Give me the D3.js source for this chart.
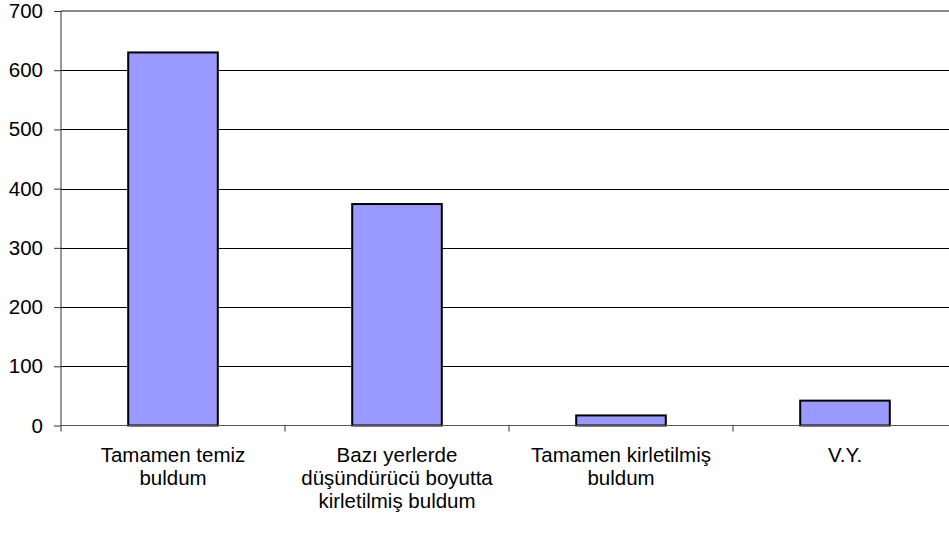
<!DOCTYPE html>
<html><head><meta charset="utf-8">
<script src="https://cdn.jsdelivr.net/npm/d3@7"></script>
<style>body{margin:0;background:#fff}svg{display:block}text{font-family:"Liberation Sans",Arial,sans-serif}</style>
</head><body>
<svg id="c" width="949" height="534"></svg>
<script>
const categories = [
  ["Tamamen temiz", "buldum"],
  ["Bazı yerlerde", "düşündürücü boyutta", "kirletilmiş buldum"],
  ["Tamamen kirletilmiş", "buldum"],
  ["V.Y."]
];
const values = [630, 374, 17, 42];
const yTicks = [0, 100, 200, 300, 400, 500, 600, 700];

(function () {
const svg = d3.select("#c");
const pl = 61, pr = 957, pt = 11, pb = 425.5;
const fs = 20.5;
const x = d3.scaleBand().domain(d3.range(categories.length)).range([pl, pr]).paddingInner(0).paddingOuter(0);
const y = d3.scaleLinear().domain([0, 700]).range([pb, pt]);

// gridlines
svg.append("g").selectAll("line").data(yTicks.filter(t => t > 0 && t < 700)).join("line")
  .attr("x1", pl).attr("x2", pr)
  .attr("y1", d => Math.round(y(d)) + 0.5).attr("y2", d => Math.round(y(d)) + 0.5)
  .attr("stroke", "#000").attr("stroke-width", 1);
// top border
svg.append("line").attr("x1", pl).attr("x2", pr).attr("y1", y(700)).attr("y2", y(700))
  .attr("stroke", "#888").attr("stroke-width", 2);

// bars
const bw = x.bandwidth() * 0.4;
svg.append("g").selectAll("rect").data(values).join("rect")
  .attr("x", (d, i) => x(i) + (x.bandwidth() - bw) / 2)
  .attr("width", bw)
  .attr("y", d => y(d))
  .attr("height", d => pb - y(d))
  .attr("fill", "#9999ff").attr("stroke", "#000").attr("stroke-width", 2);

// y axis
const ya = d3.axisLeft(y).tickValues(yTicks).tickSize(7).tickPadding(11).tickFormat(d3.format("d"));
const yg = svg.append("g").attr("transform", `translate(${pl},0)`).call(ya);
yg.select(".domain").attr("stroke", "#333").attr("d", `M0,${pt}V${pb}`);
yg.selectAll(".tick line").attr("stroke", "#333");
yg.selectAll("text").attr("font-size", fs).attr("fill", "#000").attr("font-family", "Liberation Sans, Arial, sans-serif");

// x axis
const xa = d3.axisBottom(x).tickSize(0).tickFormat("");
const xg = svg.append("g").attr("transform", `translate(0,${pb})`).call(xa);
xg.select(".domain").attr("stroke", "#555").attr("d", `M${pl},0H${pr}`);
xg.selectAll(".tick").remove();
const bounds = d3.range(categories.length + 1).map(i => pl + i * x.bandwidth());
xg.selectAll("line.b").data(bounds).join("line").attr("class", "b")
  .attr("x1", d => d).attr("x2", d => d).attr("y1", 0).attr("y2", 6).attr("stroke", "#333");

// category labels
categories.forEach((lines, i) => {
  const cx = x(i) + x.bandwidth() / 2;
  const t = svg.append("text").attr("text-anchor", "middle").attr("font-size", fs).attr("fill", "#000")
    .attr("x", cx).attr("y", 462);
  lines.forEach((l, j) => t.append("tspan").attr("x", cx).attr("dy", j === 0 ? 0 : 23).text(l));
});
})();
</script>
</body></html>
